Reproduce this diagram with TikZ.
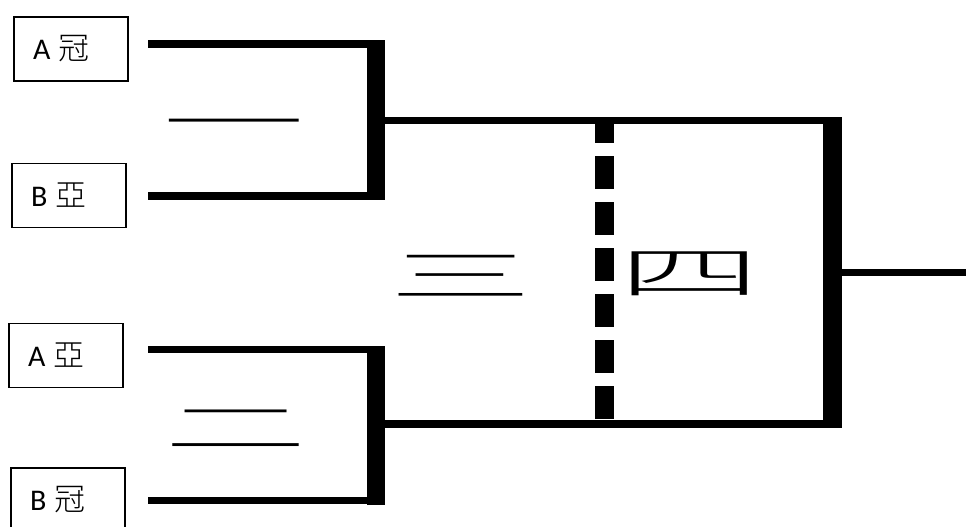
\documentclass[tikz,border=0pt]{standalone}
\usepackage{fontspec}
\setmainfont{Carlito}
\newfontfamily\cjkthin{Noto Sans CJK TC Light}
\newcommand{\lat}{\fontsize{30}{34}\selectfont}
\newcommand{\han}{\cjkthin\fontsize{31}{34}\selectfont}
\newcommand{\team}[2]{{\lat #1\hspace{8pt}}{\han #2}}
\begin{document}
\begin{tikzpicture}[x=1pt,y=-1pt,
  team/.style={draw=black, line width=1.1pt, text width=76pt, inner xsep=19pt, inner ysep=0pt,
    minimum height=64pt, align=left},
  bar/.style={fill=black},
  dashbar/.style={line width=19pt, dash pattern=on 33pt off 13pt, dash phase=10pt},
  num/.style={inner sep=0pt, font=\cjkthin\fontsize{56}{60}\selectfont}]
\useasboundingbox (0,0) rectangle (966,527);
% team boxes
\node[team] (ac) at (71,49) {\team{A}{冠}};
\node[team] (by) at (69,195.5) {\team{B}{亞}};
\node[team] (ay) at (66,355.5) {\team{A}{亞}};
\node[team] (bc) at (68,500) {\team{B}{冠}};
% upper bracket
\fill[bar] (148,40) rectangle (385,48);
\fill[bar] (148,192) rectangle (385,200);
\fill[bar] (367,40) rectangle (385,200);
% lower bracket
\fill[bar] (148,346) rectangle (385,353);
\fill[bar] (148,497) rectangle (385,504);
\fill[bar] (367,346) rectangle (385,505);
% final box
\fill[bar] (385,117) rectangle (842,124);
\fill[bar] (385,420) rectangle (842,428);
\fill[bar] (823,117) rectangle (842,428);
\coordinate (outA) at (842,272.5);
\coordinate (outB) at (966,272.5);
\draw[line width=7pt] (outA) -- (outB);
% dashed divider
\coordinate (dtop) at (604,120);
\coordinate (dbot) at (604,420);
\draw[dashbar] (dtop) -- (dbot);
% round labels
\node[num] (n1) at (234,131) {\scalebox{2.55}[1]{一}};
\node[num] (n2) at (236,429) {\scalebox{2.55}[1]{二}};
\node[num] (n3) at (461,276) {\scalebox{2.55}[1]{三}};
\node[num] (n4) at (690,274) {\scalebox{2.55}[1]{四}};
\end{tikzpicture}
\end{document}
